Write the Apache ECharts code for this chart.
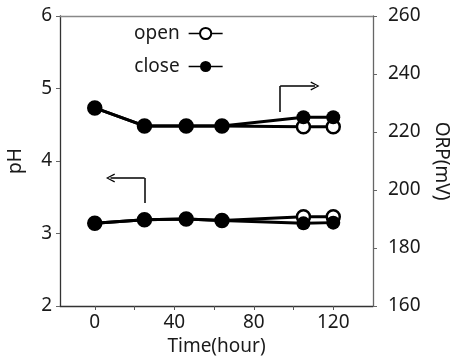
<!DOCTYPE html>
<html>
<head>
<meta charset="utf-8">
<script src="https://cdn.jsdelivr.net/npm/echarts@6/dist/echarts.min.js"></script>
<style>
  html, body { margin: 0; padding: 0; background: #fff; }
  #chart { width: 453px; height: 360px; }
</style>
</head>
<body>
<div id="chart"></div>
<script>
// time points (hour)
const timeHours = [0, 25, 46, 64, 105, 120];

// pH (left axis)
const phOpen = [3.14, 3.19, 3.20, 3.18, 3.23, 3.23];
const phClose = [3.14, 3.19, 3.20, 3.18, 3.14, 3.15];

// ORP in mV (right axis)
const orpOpen = [228.3, 222.1, 222.1, 222.1, 221.8, 221.8];
const orpClose = [228.3, 222.1, 222.1, 222.1, 225.1, 225.1];

// axis ticks
const xTicks = [0, 20, 40, 60, 80, 100, 120];
const xLabels = [0, 40, 80, 120];

// annotation arrows: [cornerX, startY, endY(corner), tipX]
const orpArrow = [93.3, 226.9, 235.9, 110.8];
const phArrow = [25.1, 3.42, 3.766, 7.9];

const font = 'Noto Sans';
const textColor = '#1a1a1a';
const chevron = 'path://M0,10 L5,0 L10,10 L8.6,10.7 L5,2.6 L1.4,10.7 Z';

const pairs = (ys) => timeHours.map((t, i) => [t, ys[i]]);

const arrowLines = (a) => [
  [{ coord: [a[0], a[1]], symbol: 'none' }, { coord: [a[0], a[2]], symbol: 'none' }],
  [{ coord: [a[0], a[2]], symbol: 'none' }, { coord: [a[3], a[2]], symbol: chevron, symbolSize: [9, 9] }],
];

const markArrow = (a) => ({
  silent: true,
  animation: false,
  label: { show: false },
  lineStyle: { color: '#000', width: 1.5, type: 'solid' },
  emphasis: { disabled: true },
  data: arrowLines(a),
});

const openStyle = {
  type: 'line',
  name: 'open',
  symbol: 'circle',
  symbolSize: 13,
  itemStyle: { color: '#fff', borderColor: '#000', borderWidth: 2.5 },
  lineStyle: { color: '#000', width: 3 },
};

const closeStyle = {
  type: 'line',
  name: 'close',
  symbol: 'circle',
  symbolSize: 14,
  itemStyle: { color: '#000', borderColor: '#000', borderWidth: 0 },
  lineStyle: { color: '#000', width: 3 },
};

const chart = echarts.init(document.getElementById('chart'));

chart.setOption({
  animation: false,
  textStyle: { fontFamily: font },
  grid: { left: 60, right: 80, top: 16, bottom: 54, outerBoundsMode: 'none' },
  legend: {
    data: ['open', 'close'],
    orient: 'vertical',
    left: 129,
    top: 19,
    align: 'right',
    itemWidth: 34,
    itemHeight: 14,
    itemGap: 14,
    textStyle: { fontFamily: font, fontSize: 19, color: textColor, padding: [0, 4, 0, 0] },
    lineStyle: { width: 1.5 },
  },
  xAxis: [
    {
      type: 'value',
      min: -17.5,
      max: 140,
      name: 'Time(hour)',
      nameLocation: 'middle',
      nameGap: 31,
      nameTextStyle: { fontFamily: font, fontSize: 19, color: textColor },
      splitLine: { show: false },
      axisLine: { onZero: false, lineStyle: { color: '#333', width: 1.3 } },
      axisTick: { customValues: xTicks, length: 4, lineStyle: { color: '#555' } },
      axisLabel: { customValues: xLabels, fontFamily: font, fontSize: 19, color: textColor, margin: 7 },
    },
    {
      type: 'value',
      position: 'top',
      min: -17.5,
      max: 140,
      splitLine: { show: false },
      axisLine: { show: true, onZero: false, lineStyle: { color: '#888', width: 1.3 } },
      axisTick: { show: false },
      axisLabel: { show: false },
    },
  ],
  yAxis: [
    {
      type: 'value',
      min: 2,
      max: 6,
      interval: 1,
      name: 'pH',
      nameLocation: 'middle',
      nameGap: 35,
      nameTextStyle: { fontFamily: font, fontSize: 19, color: textColor },
      splitLine: { show: false },
      axisLine: { show: true, onZero: false, lineStyle: { color: '#333', width: 1.3 } },
      axisTick: { show: true, length: 4, lineStyle: { color: '#666' } },
      axisLabel: { fontFamily: font, fontSize: 19, color: textColor, margin: 8 },
    },
    {
      type: 'value',
      min: 160,
      max: 260,
      interval: 20,
      position: 'right',
      name: 'ORP(mV)',
      nameLocation: 'middle',
      nameRotate: -90,
      nameGap: 50,
      nameTextStyle: { fontFamily: font, fontSize: 19, color: textColor },
      splitLine: { show: false },
      axisLine: { show: true, onZero: false, lineStyle: { color: '#666', width: 1.3 } },
      axisTick: { show: true, length: 4, lineStyle: { color: '#666' } },
      axisLabel: { fontFamily: font, fontSize: 19, color: textColor, margin: 15 },
    },
  ],
  series: [
    Object.assign({}, openStyle, { yAxisIndex: 0, data: pairs(phOpen) }),
    Object.assign({}, openStyle, { yAxisIndex: 1, data: pairs(orpOpen) }),
    Object.assign({}, closeStyle, { yAxisIndex: 0, data: pairs(phClose), markLine: markArrow(phArrow) }),
    Object.assign({}, closeStyle, { yAxisIndex: 1, data: pairs(orpClose), markLine: markArrow(orpArrow) }),
  ],
});

window.addEventListener('resize', () => chart.resize());
</script>
</body>
</html>
